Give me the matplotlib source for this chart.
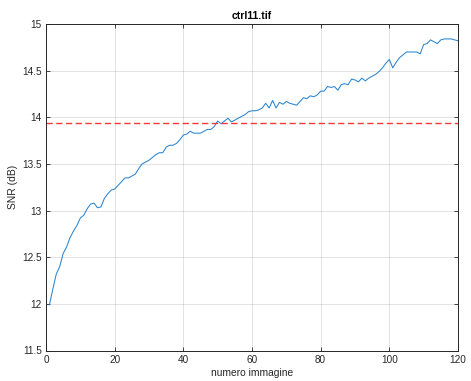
import numpy as np
import matplotlib
matplotlib.use('Agg')
import matplotlib.pyplot as plt

# SNR per image index
frame = np.arange(1, 121)
snr = [11.99, 12.16, 12.32, 12.40, 12.54, 12.61, 12.71, 12.78, 12.84, 12.92,
       12.95, 13.02, 13.07, 13.08, 13.03, 13.04, 13.13, 13.18, 13.22, 13.23,
       13.27, 13.31, 13.35, 13.35, 13.37, 13.39, 13.45, 13.50, 13.52, 13.54,
       13.57, 13.60, 13.62, 13.62, 13.68, 13.70, 13.70, 13.72, 13.76, 13.81,
       13.82, 13.85, 13.83, 13.83, 13.83, 13.85, 13.87, 13.87, 13.90, 13.96,
       13.93, 13.96, 13.99, 13.95, 13.97, 13.99, 14.01, 14.03, 14.06, 14.07,
       14.07, 14.08, 14.10, 14.15, 14.10, 14.18, 14.10, 14.16, 14.14, 14.17,
       14.15, 14.14, 14.13, 14.17, 14.21, 14.20, 14.23, 14.22, 14.24, 14.28,
       14.28, 14.33, 14.32, 14.33, 14.29, 14.35, 14.36, 14.35, 14.41, 14.40,
       14.38, 14.42, 14.39, 14.42, 14.44, 14.46, 14.49, 14.53, 14.58, 14.62,
       14.53, 14.59, 14.64, 14.67, 14.70, 14.70, 14.70, 14.70, 14.68, 14.78,
       14.79, 14.83, 14.81, 14.79, 14.83, 14.84, 14.84, 14.84, 14.83, 14.82]
snr_ref = 13.94

xticks = [0, 20, 40, 60, 80, 100, 120]
yticks = [11.5, 12, 12.5, 13, 13.5, 14, 14.5, 15]
ytick_labels = ['11.5', '12', '12.5', '13', '13.5', '14', '14.5', '15']

plt.rcParams['font.family'] = ['Liberation Sans', 'DejaVu Sans']
axcol = (0.15, 0.15, 0.15)

fig = plt.figure(figsize=(4.71, 3.81), dpi=100)
ax = fig.add_axes([46/471, 30.5/381, 412/471, 326.5/381])

ax.plot(frame, snr, color='#2a84cf', lw=0.75)
# reference level
ax.axhline(snr_ref, color='#f23a3a', lw=1.0, ls=(0, (4.5, 2.5)))

ax.set_xlim(0, 120)
ax.set_ylim(11.5, 15)
ax.set_xticks(xticks)
ax.set_yticks(yticks)
ax.set_yticklabels(ytick_labels)

ax.grid(True, color=(0.15, 0.15, 0.15), alpha=0.15, lw=0.6)
ax.set_axisbelow(True)
ax.tick_params(direction='in', top=True, right=True, length=3, width=0.6,
               colors=axcol, labelsize=7.2, pad=3)
for s in ax.spines.values():
    s.set_color(axcol)
    s.set_linewidth(0.7)

ax.set_title('ctrl11.tif', fontsize=7.5, fontweight='bold', color='black', pad=3.5)
ax.set_xlabel('numero immagine', fontsize=7.4, color=axcol, labelpad=2.5)
ax.set_ylabel('SNR (dB)', fontsize=7.4, color=axcol, labelpad=3)

fig.savefig('out.png', dpi=100, facecolor='white')
